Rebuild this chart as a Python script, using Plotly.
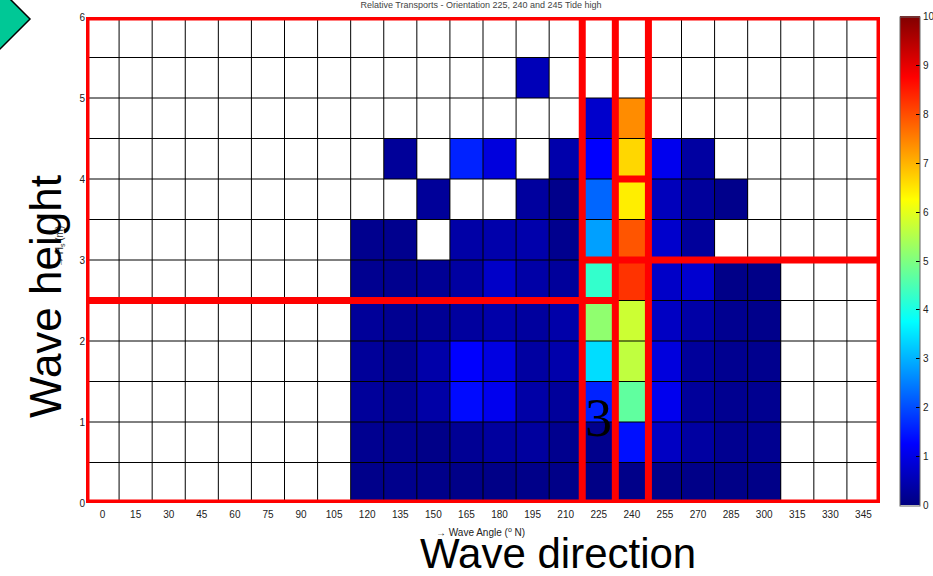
import plotly.graph_objects as go

# ---------------- data ----------------
angles = list(range(0, 360, 15))                      # wave angle bins (deg N), cell centres
heights = [0.25, 0.75, 1.25, 1.75, 2.25, 2.75, 3.25, 3.75, 4.25, 4.75, 5.25, 5.75]  # Hs bin centres (m)
x_ticks = list(range(0, 360, 15))
y_ticks = [0, 1, 2, 3, 4, 5, 6]
cbar_ticks = list(range(0, 11))

# relative transport for angles 120..300 (other angles empty)
active_angles = [120, 135, 150, 165, 180, 195, 210, 225, 240, 255, 270, 285, 300]
N = None
row_000_050 = [0.10, 0.12, 0.10, 0.08, 0.07, 0.09, 0.08, 0.06, 0.09, 0.09, 0.08, 0.07, 0.08]
row_050_100 = [0.16, 0.13, 0.08, 0.20, 0.30, 0.30, 0.14, 0.12, 1.40, 0.66, 0.32, 0.16, 0.16]
row_100_150 = [0.26, 0.17, 0.37, 1.35, 1.08, 0.37, 0.27, 1.58, 4.69, 1.08, 0.27, 0.16, 0.16]
row_150_200 = [0.25, 0.14, 0.40, 1.25, 0.95, 0.32, 0.42, 3.42, 5.63, 0.92, 0.27, 0.16, 0.14]
row_200_250 = [0.25, 0.17, 0.20, 0.30, 0.40, 0.30, 0.40, 5.16, 5.75, 0.66, 0.37, 0.16, 0.11]
row_250_300 = [0.16, 0.14, 0.20, 0.32, 0.71, 0.37, 0.27, 4.25, 8.25, 0.71, 0.79, 0.08, 0.08]
row_300_350 = [0.14, 0.14, N,    0.37, 0.42, 0.42, 0.14, 2.82, 7.92, 0.75, 0.27, N,    N]
row_350_400 = [N,    N,    0.25, N,    N,    0.30, 0.11, 2.25, 6.42, 0.58, 0.27, 0.11, N]
row_400_450 = [N,    0.25, N,    1.58, 0.92, N,    0.42, 1.25, 6.64, 1.08, 0.32, N,    N]
row_450_500 = [N,    N,    N,    N,    N,    N,    N,    0.75, 7.38, N,    N,    N,    N]
row_500_550 = [N,    N,    N,    N,    N,    0.55, N,    N,    N,    N,    N,    N,    N]
row_550_600 = [N,    N,    N,    N,    N,    N,    N,    N,    N,    N,    N,    N,    N]
rows = [row_000_050, row_050_100, row_100_150, row_150_200, row_200_250, row_250_300,
        row_300_350, row_350_400, row_400_450, row_450_500, row_500_550, row_550_600]

title_text = "Relative Transports - Orientation 225, 240 and 245 Tide high"

# ---------------- build full matrix ----------------
z = []
for r in rows:
    full = [None] * len(angles)
    for a, v in zip(active_angles, r):
        full[angles.index(a)] = v
    z.append(full)

jet = [[0.0, "rgb(0,0,128)"], [0.125, "rgb(0,0,255)"], [0.375, "rgb(0,255,255)"],
       [0.625, "rgb(255,255,0)"], [0.875, "rgb(255,0,0)"], [1.0, "rgb(128,0,0)"]]

# layout geometry (pixels)
W, H = 933, 576
ML, MR, MT, MB = 86, 53, 17, 73
PW, PH = W - ML - MR, H - MT - MB


def px(x):
    return (x - ML) / PW


def py(y):
    return (H - MB - y) / PH


fig = go.Figure()
fig.add_trace(go.Heatmap(
    x=angles, y=heights, z=z, zmin=0, zmax=10, colorscale=jet,
    hoverongaps=False,
    colorbar=dict(
        x=px(900), xanchor="left", xpad=0,
        y=py(16.5), yanchor="top", ypad=0,
        len=489, lenmode="pixels", thickness=20,
        outlinewidth=1, outlinecolor="#666666",
        tickvals=cbar_ticks, ticks="inside", ticklen=4, tickcolor="#000000",
        tickfont=dict(family="Liberation Sans", size=10, color="#222222"),
    ),
))

# cell edge grid (drawn over the heatmap)
dx = angles[1] - angles[0]
dy = heights[1] - heights[0]
x_edges = [a - dx / 2 for a in angles] + [angles[-1] + dx / 2]
y_edges = [h - dy / 2 for h in heights] + [heights[-1] + dy / 2]
gx, gy = [], []
for xe in x_edges:
    gx += [xe, xe, None]
    gy += [y_edges[0], y_edges[-1], None]
for ye in y_edges:
    gx += [x_edges[0], x_edges[-1], None]
    gy += [ye, ye, None]
fig.add_trace(go.Scatter(x=gx, y=gy, mode="lines", line=dict(color="black", width=1),
                         hoverinfo="skip", showlegend=False))

# ---------------- overlay highlight boxes (red) ----------------
red = dict(color="#FF0000", width=7)
x0, x1 = x_edges[0], x_edges[-1]
y0, y1 = y_edges[0], y_edges[-1]
e225 = angles.index(225)
xa, xb, xc = x_edges[e225], x_edges[e225 + 1], x_edges[e225 + 2]
shapes = [
    dict(type="rect", xref="x", yref="y", x0=x0, x1=x1, y0=y0, y1=y1, line=red),
    dict(type="line", xref="x", yref="y", x0=xa, x1=xa, y0=y0, y1=y1, line=red),
    dict(type="rect", xref="x", yref="y", x0=xb, x1=xc, y0=y0, y1=6.05, line=red),
    dict(type="line", xref="x", yref="y", x0=xb, x1=xc, y0=4.0, y1=4.0, line=red),
    dict(type="line", xref="x", yref="y", x0=x0, x1=xb, y0=2.5, y1=2.5, line=red),
    dict(type="line", xref="x", yref="y", x0=xa, x1=x1, y0=3.0, y1=3.0, line=red),
    # green slide arrow at top-left
    dict(type="path", xref="paper", yref="paper",
         path=f"M {px(-2)},{py(-2)} L {px(9)},{py(-2)} L {px(30)},{py(19)} L {px(-2)},{py(51)} Z",
         fillcolor="#00C896", line=dict(color="black", width=1.5)),
]

C = dict(xanchor="center", yanchor="middle", showarrow=False)
annotations = [
    dict(text="→ Wave Angle (<sup>o</sup> N)", xref="paper", yref="paper", x=px(480), y=py(532),
         font=dict(family="Liberation Sans", size=10, color="#222222"), **C),
    dict(text="→ H<sub>s</sub> (m)", xref="paper", yref="paper", x=px(60), y=py(247),
         textangle=-90, font=dict(family="Liberation Sans", size=10, color="#222222"), **C),
    dict(text="Wave height", xref="paper", yref="paper", x=px(45), y=py(297),
         textangle=-90, font=dict(family="Liberation Sans", size=44, color="black"), **C),
    dict(text="Wave direction", xref="paper", yref="paper", x=px(558), y=py(553),
         font=dict(family="Liberation Sans", size=42, color="black"), **C),
    dict(text="3", xref="x", yref="y", x=225, y=1.05,
         font=dict(family="Liberation Serif, Times New Roman, serif", size=54, color="black"), **C),
]

fig.update_layout(
    width=W, height=H,
    margin=dict(l=ML, r=MR, t=MT, b=MB, autoexpand=False),
    paper_bgcolor="white", plot_bgcolor="white",
    title=dict(text=title_text, x=481 / W, xanchor="center",
               y=1 - 5 / H, yanchor="middle", yref="container",
               font=dict(family="Liberation Sans", size=9, color="#444444")),
    shapes=shapes, annotations=annotations, showlegend=False,
)
fig.update_xaxes(range=[x0, x1], tickvals=x_ticks, ticks="", showgrid=False, zeroline=False,
                 ticklabelstandoff=4,
                 tickfont=dict(family="Liberation Sans", size=10, color="#222222"))
fig.update_yaxes(range=[y0, y1], tickvals=y_ticks, ticks="", showgrid=False, zeroline=False,
                 tickfont=dict(family="Liberation Sans", size=10, color="#222222"))

fig.write_html("out.html")
